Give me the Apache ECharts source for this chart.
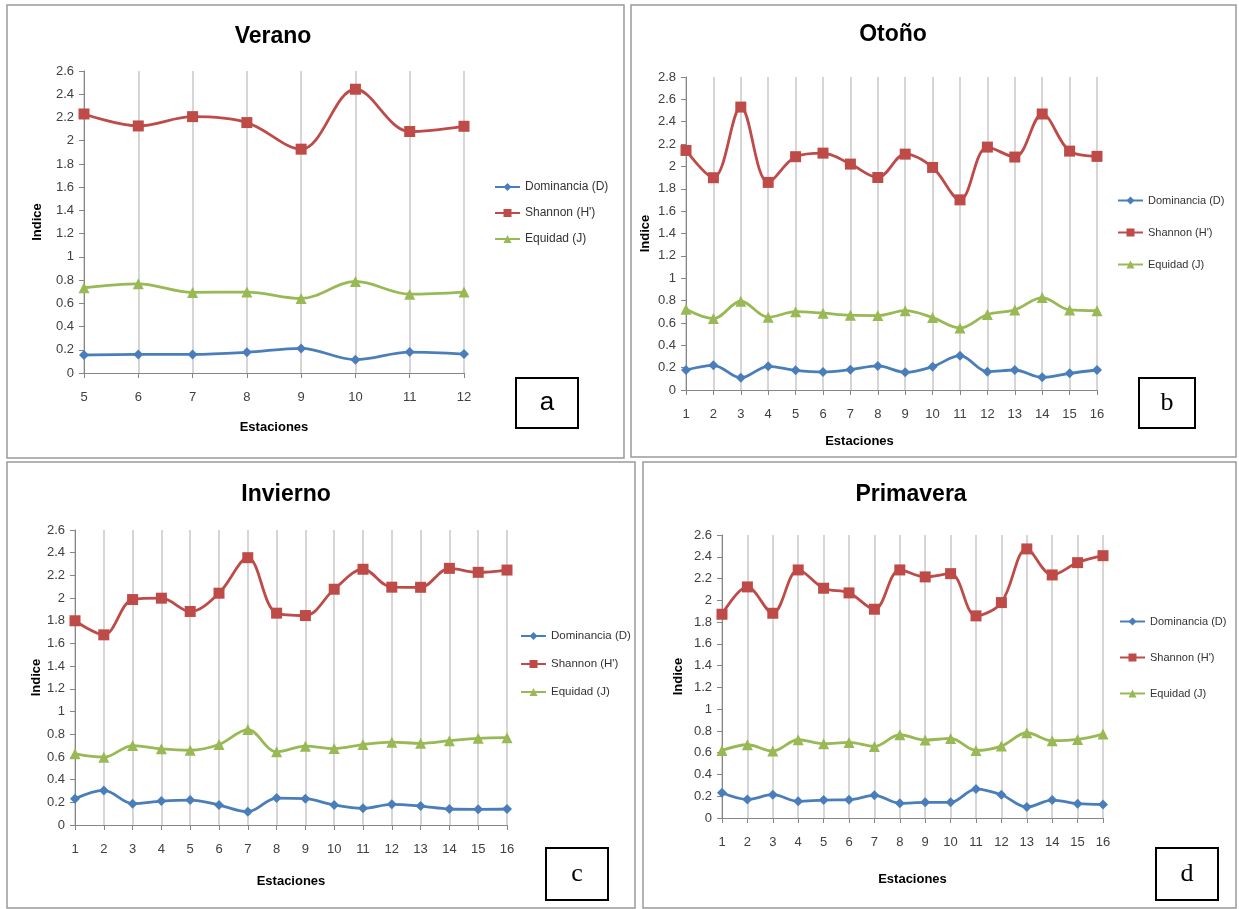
<!DOCTYPE html>
<html>
<head>
<meta charset="utf-8">
<script src="https://cdn.jsdelivr.net/npm/echarts@6/dist/echarts.min.js"></script>
<style>
  html, body { margin: 0; padding: 0; background: #fff; }
  #main { width: 1239px; height: 909px; }
</style>
</head>
<body>
<div id="main"></div>
<script>
// estaciones
const estVerano = ['5', '6', '7', '8', '9', '10', '11', '12'];
const estResto = ['1', '2', '3', '4', '5', '6', '7', '8', '9', '10', '11', '12', '13', '14', '15', '16'];

// Verano (a)
const veranoD = [0.155, 0.16, 0.16, 0.178, 0.212, 0.115, 0.18, 0.163];
const veranoH = [2.23, 2.127, 2.207, 2.156, 1.927, 2.443, 2.079, 2.124];
const veranoJ = [0.734, 0.768, 0.694, 0.697, 0.642, 0.788, 0.679, 0.697];

// Otoño (b)
const otonoD = [0.179, 0.221, 0.11, 0.212, 0.176, 0.161, 0.182, 0.215, 0.158, 0.209, 0.307, 0.164, 0.179, 0.113, 0.149, 0.179];
const otonoH = [2.143, 1.899, 2.531, 1.857, 2.087, 2.119, 2.021, 1.901, 2.11, 1.991, 1.701, 2.173, 2.084, 2.469, 2.137, 2.09];
const otonoJ = [0.722, 0.639, 0.794, 0.651, 0.701, 0.687, 0.669, 0.666, 0.71, 0.648, 0.555, 0.675, 0.716, 0.827, 0.716, 0.71];

// Invierno (c)
const inviernoD = [0.232, 0.305, 0.188, 0.211, 0.22, 0.176, 0.117, 0.237, 0.232, 0.176, 0.147, 0.182, 0.167, 0.141, 0.138, 0.141];
const inviernoH = [1.80, 1.676, 1.987, 1.999, 1.882, 2.043, 2.356, 1.867, 1.846, 2.078, 2.254, 2.096, 2.095, 2.262, 2.227, 2.247];
const inviernoJ = [0.627, 0.598, 0.70, 0.671, 0.659, 0.709, 0.841, 0.645, 0.695, 0.674, 0.709, 0.73, 0.72, 0.743, 0.764, 0.77];

// Primavera (d)
const primaveraD = [0.232, 0.171, 0.214, 0.153, 0.165, 0.168, 0.208, 0.135, 0.144, 0.144, 0.266, 0.214, 0.101, 0.165, 0.132, 0.125];
const primaveraH = [1.872, 2.123, 1.881, 2.279, 2.111, 2.068, 1.918, 2.279, 2.215, 2.245, 1.857, 1.979, 2.472, 2.233, 2.346, 2.41];
const primaveraJ = [0.621, 0.673, 0.615, 0.719, 0.682, 0.694, 0.658, 0.765, 0.716, 0.731, 0.621, 0.661, 0.783, 0.71, 0.722, 0.771];

const nombres = ['Dominancia (D)', 'Shannon (H\')', 'Equidad (J)'];
const colores = ['#4A7EBB', '#BE4B48', '#98B954'];
const simbolos = ['diamond', 'rect', 'triangle'];
const tamanos = [10, 11, 11];

const FONT = "'Liberation Sans Narrow', 'Liberation Sans', Arial, sans-serif";

// paneles: grid, leyenda, titulo, etiquetas
const paneles = [
  { titulo: 'Verano', letra: 'a', letraFont: 'Liberation Sans', cats: estVerano, datos: [veranoD, veranoH, veranoJ], max: 2.6,
    grid: { left: 84, top: 71, width: 380, height: 302 }, tx: 273, ty: 37,
    leg: { left: 494, top: 181, itemGap: 14, fs: 12 }, yGap: 40, xGap: 48, xPad: 0,
    frame: [7, 5, 617, 453], box: [516, 378, 62, 50] },
  { titulo: 'Otoño', letra: 'b', letraFont: 'Liberation Serif', cats: estResto, datos: [otonoD, otonoH, otonoJ], max: 2.8,
    grid: { left: 686, top: 77, width: 411, height: 313 }, tx: 893, ty: 35,
    leg: { left: 1117, top: 195, itemGap: 21, fs: 11 }, yGap: 34, xGap: 45, xPad: 64,
    frame: [631, 5, 605, 452], box: [1139, 378, 56, 50] },
  { titulo: 'Invierno', letra: 'c', letraFont: 'Liberation Serif', cats: estResto, datos: [inviernoD, inviernoH, inviernoJ], max: 2.6,
    grid: { left: 75, top: 530, width: 432, height: 295 }, tx: 286, ty: 495,
    leg: { left: 520, top: 630, itemGap: 16, fs: 11.5 }, yGap: 30, xGap: 50, xPad: 0,
    frame: [7, 462, 628, 446], box: [546, 848, 62, 52] },
  { titulo: 'Primavera', letra: 'd', letraFont: 'Liberation Serif', cats: estResto, datos: [primaveraD, primaveraH, primaveraJ], max: 2.6,
    grid: { left: 722, top: 535, width: 381, height: 283 }, tx: 911, ty: 495,
    leg: { left: 1119, top: 616, itemGap: 25, fs: 11 }, yGap: 37, xGap: 55, xPad: 0,
    frame: [643, 462, 593, 446], box: [1156, 848, 62, 52] }
];

let option = {
  backgroundColor: '#fff',
  animation: false,
  title: [], legend: [], grid: [], xAxis: [], yAxis: [], series: [], graphic: []
};

paneles.forEach(function (p, i) {
  option.title.push({
    text: p.titulo, left: p.tx, top: p.ty, padding: 0,
    textAlign: 'center', textVerticalAlign: 'middle',
    textStyle: { fontFamily: FONT, fontSize: 23, fontWeight: 'bold', color: '#000' }
  });
  option.legend.push({
    orient: 'vertical', left: p.leg.left, top: p.leg.top, itemGap: p.leg.itemGap,
    itemWidth: 25, itemHeight: 10, padding: 0,
    data: nombres,
    textStyle: { fontFamily: FONT, fontSize: p.leg.fs, color: '#333' }
  });
  option.grid.push(Object.assign({ containLabel: false }, p.grid));
  option.xAxis.push({
    type: 'category', gridIndex: i, data: p.cats, boundaryGap: false,
    name: 'Estaciones', nameLocation: 'middle', nameGap: p.xGap,
    nameTextStyle: { fontFamily: FONT, fontSize: 13, fontWeight: 'bold', color: '#000', padding: [0, p.xPad, 0, 0] },
    axisLine: { lineStyle: { color: '#868686', width: 1 } },
    axisTick: { show: true, length: 5, lineStyle: { color: '#868686' } },
    axisLabel: { fontFamily: FONT, fontSize: 13, color: '#404040', margin: 18 },
    splitLine: { show: true, lineStyle: { color: '#c8c8c8', width: 1.5 } }
  });
  option.yAxis.push({
    type: 'value', gridIndex: i, min: 0, max: p.max, interval: 0.2,
    name: 'Indice', nameLocation: 'middle', nameGap: p.yGap, nameRotate: 90,
    nameTextStyle: { fontFamily: FONT, fontSize: 13, fontWeight: 'bold', color: '#000' },
    axisLine: { show: true, lineStyle: { color: '#868686', width: 1 } },
    axisTick: { show: true, length: 5, lineStyle: { color: '#868686' } },
    axisLabel: { fontFamily: FONT, fontSize: 13, color: '#404040', margin: 10 },
    splitLine: { show: false }
  });
  for (let s = 0; s < 3; s++) {
    option.series.push({
      name: nombres[s], type: 'line', xAxisIndex: i, yAxisIndex: i,
      data: p.datos[s], smooth: 0.35,
      symbol: simbolos[s], symbolSize: tamanos[s],
      lineStyle: { color: colores[s], width: 2.8 },
      itemStyle: { color: colores[s] }
    });
  }
  // marco del panel
  option.graphic.push({
    type: 'rect', silent: true,
    shape: { x: p.frame[0], y: p.frame[1], width: p.frame[2], height: p.frame[3] },
    style: { fill: null, stroke: '#9a9a9a', lineWidth: 1.5 }
  });
  // recuadro con la letra
  option.graphic.push({
    type: 'rect', silent: true,
    shape: { x: p.box[0], y: p.box[1], width: p.box[2], height: p.box[3] },
    style: { fill: '#fff', stroke: '#000', lineWidth: 2 }
  });
  option.graphic.push({
    type: 'text', silent: true,
    x: p.box[0] + p.box[2] / 2, y: p.box[1] + p.box[3] / 2,
    style: { text: p.letra, font: '26px ' + p.letraFont, fill: '#000', align: 'center', verticalAlign: 'middle' }
  });
});

let chart = echarts.init(document.getElementById('main'));
chart.setOption(option);
window.addEventListener('resize', chart.resize);
</script>
</body>
</html>
